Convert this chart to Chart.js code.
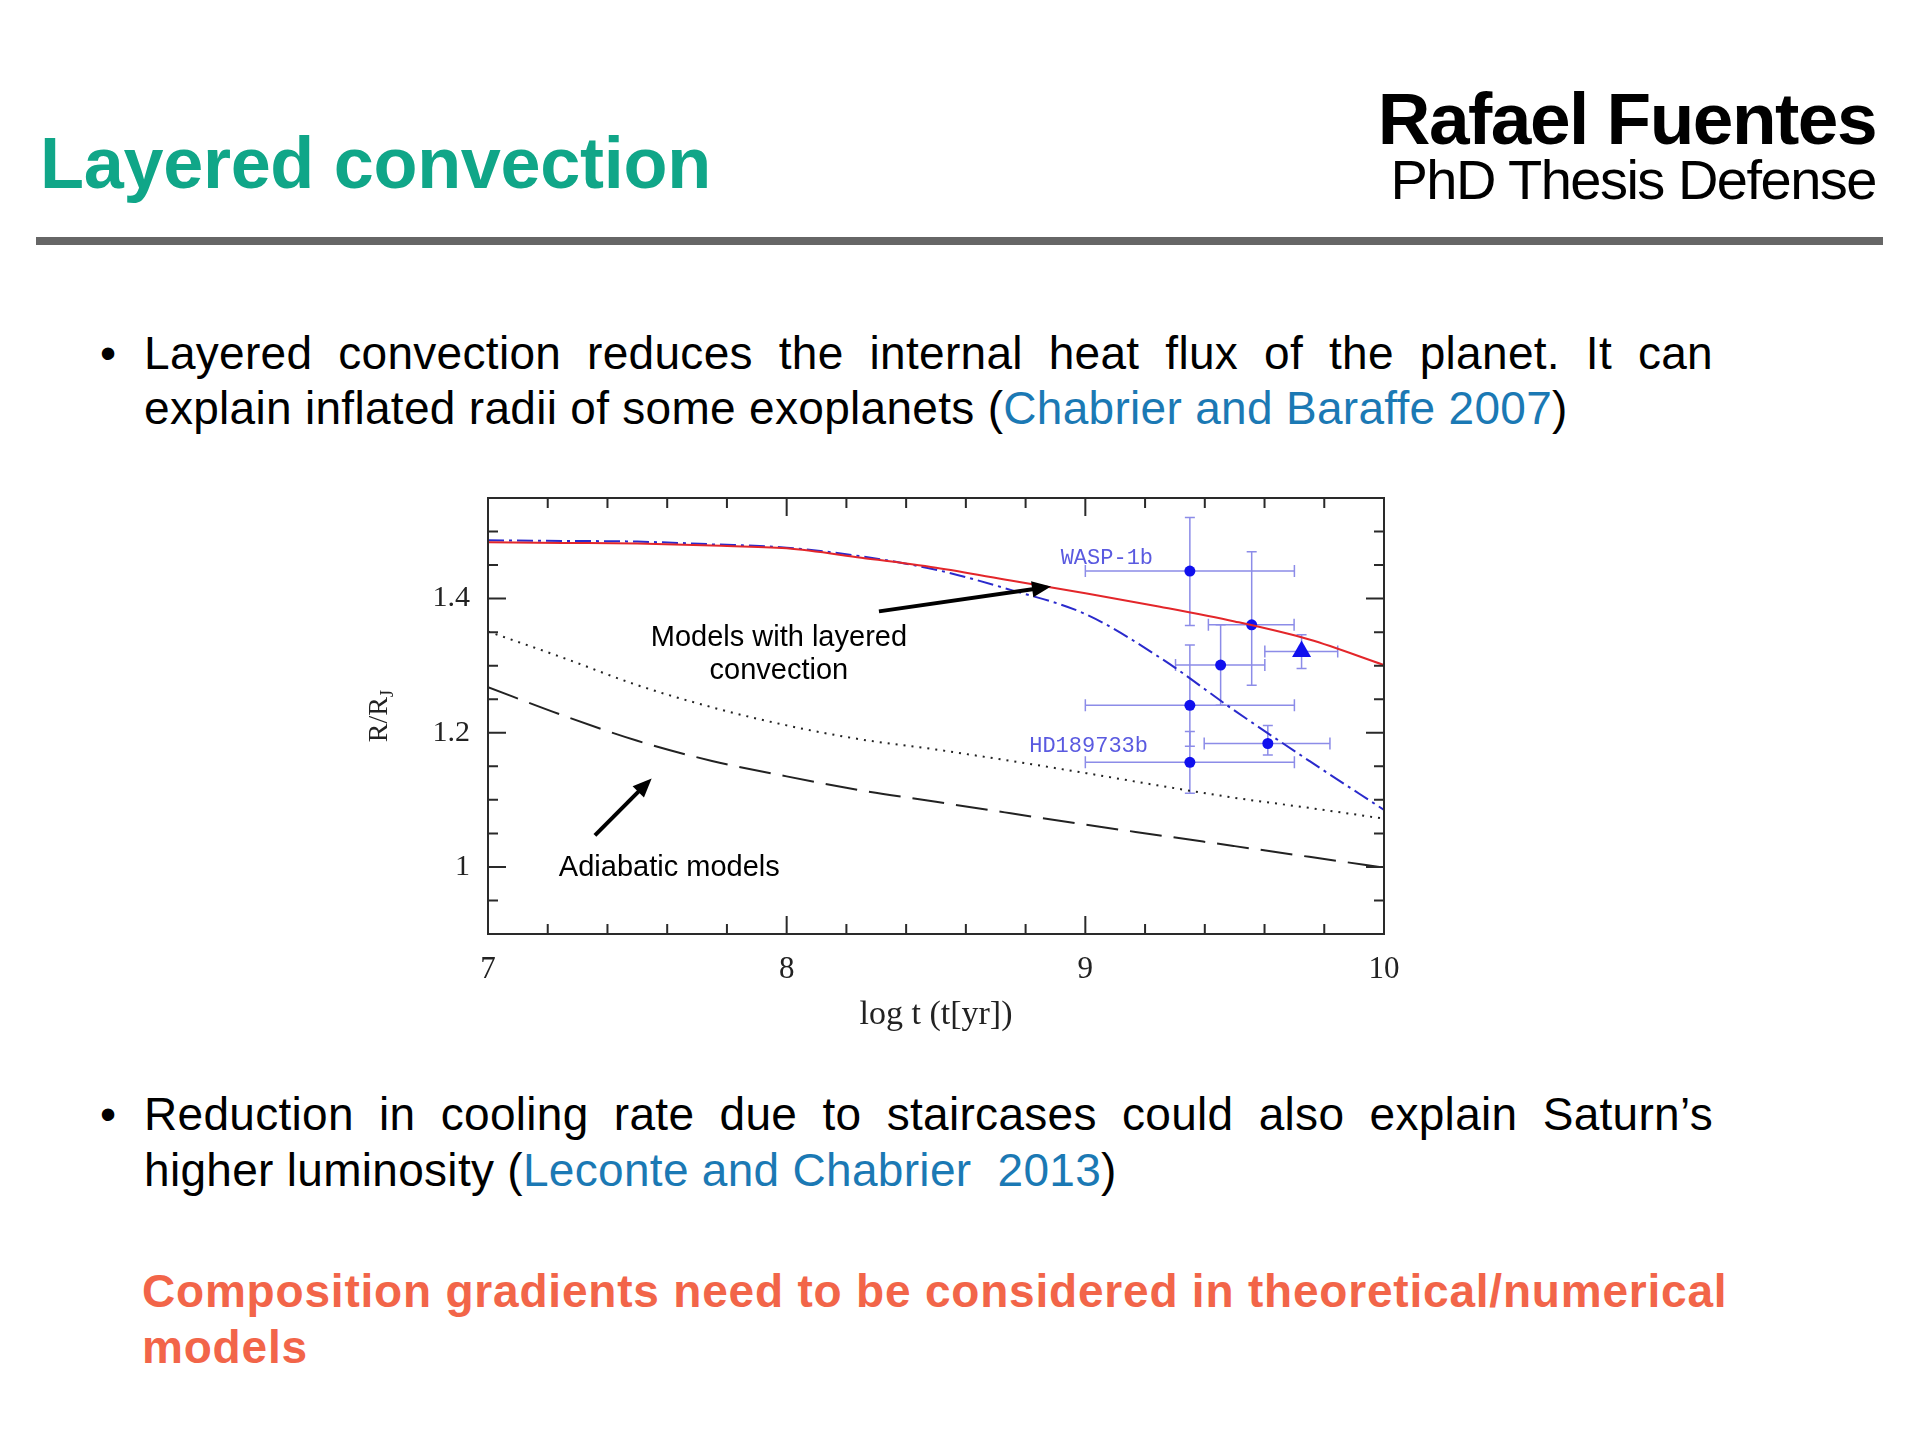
<!DOCTYPE html>
<html>
<head>
<meta charset="utf-8">
<script src="https://cdn.jsdelivr.net/npm/chart.js@4.4.1/dist/chart.umd.min.js"></script>
<style>
  html, body { margin: 0; padding: 0; background: #fff; }
  body { width: 1920px; height: 1440px; position: relative; overflow: hidden;
         font-family: "Liberation Sans", Arial, sans-serif; color: #000; }
  .t { position: absolute; white-space: nowrap; line-height: 1; }
  #title { left: 40px; top: 127px; font-size: 72px; font-weight: bold; color: #10a688; letter-spacing: -0.3px; }
  #author { right: 44px; top: 82px; font-size: 73px; font-weight: bold; letter-spacing: -1.5px; }
  #sub { right: 44px; top: 152px; font-size: 56px; letter-spacing: -1.5px; }
  #rule { position: absolute; left: 36px; top: 237px; width: 1847px; height: 8px; background: #666; }
  .txt { font-size: 46px; letter-spacing: 0.3px; }
  .just { width: 1569px; text-align: justify; text-align-last: justify; white-space: normal; }
  .dot { font-size: 46px; }
  .cite { color: #1b79b4; }
  .note { font-size: 46px; font-weight: bold; color: #f26549; letter-spacing: 0.8px; }
  #wrap { position: absolute; left: 350px; top: 458px; width: 1074px; height: 602px; }
</style>
</head>
<body>
<div id="title" class="t">Layered convection</div>
<div id="author" class="t">Rafael Fuentes</div>
<div id="sub" class="t">PhD Thesis Defense</div>
<div id="rule"></div>

<div class="t dot" style="left:100px; top:330px">•</div>
<div class="t txt just" style="left:144px; top:330px">Layered convection reduces the internal heat flux of the planet. It can</div>
<div class="t txt" style="left:144px; top:385px">explain inflated radii of some exoplanets (<span class="cite">Chabrier and Baraffe 2007</span>)</div>

<div id="wrap"><canvas id="chart" width="1074" height="602"></canvas></div>

<div class="t dot" style="left:100px; top:1091px">•</div>
<div class="t txt just" style="left:144px; top:1091px">Reduction in cooling rate due to staircases could also explain Saturn’s</div>
<div class="t txt" style="left:144px; top:1147px">higher luminosity (<span class="cite">Leconte and Chabrier&nbsp; 2013</span>)</div>

<div class="t note" style="left:142px; top:1268px">Composition gradients need to be considered in theoretical/numerical</div>
<div class="t note" style="left:142px; top:1324px">models</div>

<script>
// log t grid for the model curves
const logAge = [7.0, 7.25, 7.5, 7.75, 8.0, 8.25, 8.5, 8.75, 9.0, 9.25, 9.5, 9.75, 10.0];
const layeredA = [1.484, 1.483, 1.482, 1.479, 1.475, 1.461, 1.446, 1.427, 1.408, 1.388, 1.366, 1.339, 1.301];
const layeredB = [1.487, 1.486, 1.485, 1.481, 1.476, 1.463, 1.443, 1.413, 1.377, 1.312, 1.233, 1.158, 1.085];
const adiabaticA = [1.351, 1.312, 1.271, 1.238, 1.211, 1.190, 1.175, 1.158, 1.140, 1.121, 1.103, 1.088, 1.072];
const adiabaticB = [1.268, 1.226, 1.188, 1.158, 1.135, 1.114, 1.097, 1.080, 1.063, 1.047, 1.031, 1.015, 0.999];

// observed planets (circles) with error bars
const obsX   = [9.35, 9.557, 9.453, 9.35, 9.35, 9.611];
const obsY   = [1.441, 1.361, 1.301, 1.241, 1.156, 1.184];
const obsXLo = [9.0, 9.412, 9.302, 9.0, 9.0, 9.398];
const obsXHi = [9.7, 9.699, 9.601, 9.7, 9.7, 9.819];
const obsYLo = [1.360, 1.271, 1.241, 1.180, 1.110, 1.167];
const obsYHi = [1.521, 1.470, 1.361, 1.331, 1.202, 1.211];
// triangle point
const triX = [9.724], triY = [1.321];
const triXLo = [9.601], triXHi = [9.845], triYLo = [1.296], triYHi = [1.346];

// axis ticks
const xTicks = [7, 7.2, 7.4, 7.6, 7.8, 8, 8.2, 8.4, 8.6, 8.8, 9, 9.2, 9.4, 9.6, 9.8, 10];
const xMajor = [7, 8, 9, 10];
const yTicks = [0.95, 1, 1.05, 1.1, 1.15, 1.2, 1.25, 1.3, 1.35, 1.4, 1.45, 1.5];
const yMajor = [1, 1.2, 1.4];

const pts = (xs, ys) => xs.map((x, i) => ({ x: x, y: ys[i] }));
const serif = '"Liberation Serif", "Times New Roman", serif';

function arrow(ctx, x0, y0, x1, y1) {
  const a = Math.atan2(y1 - y0, x1 - x0), L = 19, W = 8;
  const c = Math.cos(a), s = Math.sin(a);
  ctx.beginPath();
  ctx.moveTo(x0, y0);
  ctx.lineTo(x1 - L * c * 0.8, y1 - L * s * 0.8);
  ctx.stroke();
  ctx.beginPath();
  ctx.moveTo(x1, y1);
  ctx.lineTo(x1 - L * c + W * s, y1 - L * s - W * c);
  ctx.lineTo(x1 - L * c - W * s, y1 - L * s + W * c);
  ctx.closePath();
  ctx.fill();
}

function errBars(ctx, xs, ys, xl, xh, yl, yh, sx, sy) {
  xs.forEach((x, i) => {
    const px = sx.getPixelForValue(x), py = sy.getPixelForValue(ys[i]);
    const l = sx.getPixelForValue(xl[i]), r = sx.getPixelForValue(xh[i]);
    const t = sy.getPixelForValue(yh[i]), b = sy.getPixelForValue(yl[i]);
    ctx.beginPath();
    ctx.moveTo(l, py); ctx.lineTo(r, py);
    ctx.moveTo(l, py - 6); ctx.lineTo(l, py + 6);
    ctx.moveTo(r, py - 6); ctx.lineTo(r, py + 6);
    ctx.moveTo(px, t); ctx.lineTo(px, b);
    ctx.moveTo(px - 5, t); ctx.lineTo(px + 5, t);
    ctx.moveTo(px - 5, b); ctx.lineTo(px + 5, b);
    ctx.stroke();
  });
}

const framePlugin = {
  id: 'frame',
  beforeDatasetsDraw(chart) {
    const { ctx, scales: { x, y } } = chart;
    ctx.save();
    ctx.strokeStyle = '#8c8ce8';
    ctx.lineWidth = 1.5;
    errBars(ctx, obsX, obsY, obsXLo, obsXHi, obsYLo, obsYHi, x, y);
    errBars(ctx, triX, triY, triXLo, triXHi, triYLo, triYHi, x, y);
    ctx.restore();
  },
  afterDraw(chart) {
    const { ctx, chartArea: ca, scales: { x, y } } = chart;
    ctx.save();
    // box and inward ticks
    ctx.strokeStyle = '#2a2a2a';
    ctx.lineWidth = 2;
    ctx.strokeRect(ca.left, ca.top, ca.right - ca.left, ca.bottom - ca.top);
    ctx.beginPath();
    x.ticks.forEach(t => {
      const px = x.getPixelForValue(t.value);
      const len = xMajor.includes(t.value) ? 18 : 10;
      ctx.moveTo(px, ca.bottom); ctx.lineTo(px, ca.bottom - len);
      ctx.moveTo(px, ca.top); ctx.lineTo(px, ca.top + len);
    });
    y.ticks.forEach(t => {
      const py = y.getPixelForValue(t.value);
      const len = yMajor.includes(t.value) ? 18 : 10;
      ctx.moveTo(ca.left, py); ctx.lineTo(ca.left + len, py);
      ctx.moveTo(ca.right, py); ctx.lineTo(ca.right - len, py);
    });
    ctx.stroke();

    // y axis title R/R_J
    ctx.save();
    ctx.translate(ca.left - 108, (ca.top + ca.bottom) / 2);
    ctx.rotate(-Math.PI / 2);
    ctx.fillStyle = '#222';
    ctx.font = '28px ' + serif;
    ctx.textBaseline = 'middle';
    const w1 = ctx.measureText('R/R').width;
    ctx.font = '19px ' + serif;
    const w2 = ctx.measureText('J').width;
    ctx.font = '28px ' + serif;
    ctx.textAlign = 'left';
    ctx.fillText('R/R', -(w1 + w2) / 2, 0);
    ctx.font = '19px ' + serif;
    ctx.fillText('J', -(w1 + w2) / 2 + w1, 8);
    ctx.restore();

    // planet names
    ctx.fillStyle = '#5a5ae0';
    ctx.font = '22px "Liberation Mono", "Courier New", monospace';
    ctx.textAlign = 'center';
    ctx.textBaseline = 'middle';
    ctx.fillText('WASP-1b', x.getPixelForValue(9.072), y.getPixelForValue(1.461));
    ctx.fillText('HD189733b', x.getPixelForValue(9.011), y.getPixelForValue(1.180));

    // annotations
    ctx.fillStyle = '#000';
    ctx.font = '29px "Liberation Sans", Arial, sans-serif';
    ctx.textBaseline = 'alphabetic';
    ctx.fillText('Models with layered', x.getPixelForValue(7.974), y.getPixelForValue(1.330));
    ctx.fillText('convection', x.getPixelForValue(7.974), y.getPixelForValue(1.280));
    ctx.fillText('Adiabatic models', x.getPixelForValue(7.607), y.getPixelForValue(0.986));
    ctx.strokeStyle = '#000';
    ctx.lineWidth = 4;
    arrow(ctx, x.getPixelForValue(8.309), y.getPixelForValue(1.381), x.getPixelForValue(8.885), y.getPixelForValue(1.418));
    arrow(ctx, x.getPixelForValue(7.358), y.getPixelForValue(1.047), x.getPixelForValue(7.548), y.getPixelForValue(1.132));
    ctx.restore();
  }
};

const ctx = document.getElementById('chart');

new Chart(ctx, {
  type: 'scatter',
  data: {
    datasets: [
      { label: 'layered', data: pts(logAge, layeredA), showLine: true, borderColor: '#e3262a', borderWidth: 2,
        pointRadius: 0, cubicInterpolationMode: 'monotone' },
      { label: 'layered 2', data: pts(logAge, layeredB), showLine: true, borderColor: '#2a2acc', borderWidth: 2,
        borderDash: [16, 5, 3, 5], pointRadius: 0, cubicInterpolationMode: 'monotone' },
      { label: 'adiabatic', data: pts(logAge, adiabaticA), showLine: true, borderColor: '#222', borderWidth: 2,
        borderDash: [2, 6], pointRadius: 0, cubicInterpolationMode: 'monotone' },
      { label: 'adiabatic 2', data: pts(logAge, adiabaticB), showLine: true, borderColor: '#222', borderWidth: 2,
        borderDash: [32, 12], pointRadius: 0, cubicInterpolationMode: 'monotone' },
      { label: 'planets', data: pts(obsX, obsY), pointRadius: 5.5, pointBackgroundColor: '#1010ee',
        pointBorderColor: '#1010ee', pointBorderWidth: 0 },
      { label: 'triangle', data: pts(triX, triY), pointStyle: 'triangle', pointRadius: 11,
        pointBackgroundColor: '#1010ee', pointBorderColor: '#1010ee', pointBorderWidth: 0 }
    ]
  },
  options: {
    responsive: false,
    animation: false,
    devicePixelRatio: 1,
    layout: { padding: { left: 0, right: 40, top: 40, bottom: 0 } },
    plugins: { legend: { display: false }, tooltip: { enabled: false } },
    scales: {
      x: {
        type: 'linear', min: 7, max: 10,
        afterBuildTicks: a => { a.ticks = xTicks.map(v => ({ value: v })); },
        afterFit: s => { s.height = 126; },
        grid: { display: false, drawTicks: false },
        border: { display: false },
        ticks: {
          padding: 17, autoSkip: false, maxRotation: 0, color: '#222',
          font: { family: serif, size: 31 },
          callback: v => xMajor.includes(v) ? String(v) : ''
        },
        title: { display: true, text: 'log t (t[yr])', color: '#222',
                 font: { family: serif, size: 34 }, padding: { top: 0, bottom: 25 } }
      },
      y: {
        type: 'linear', min: 0.9, max: 1.55,
        afterBuildTicks: a => { a.ticks = yTicks.map(v => ({ value: v })); },
        afterFit: s => { s.width = 138; },
        grid: { display: false, drawTicks: false },
        border: { display: false },
        ticks: {
          padding: 18, autoSkip: false, color: '#222',
          font: { family: serif, size: 30 },
          callback: v => yMajor.includes(v) ? String(v) : ''
        }
      }
    }
  },
  plugins: [framePlugin]
});
</script>
</body>
</html>
